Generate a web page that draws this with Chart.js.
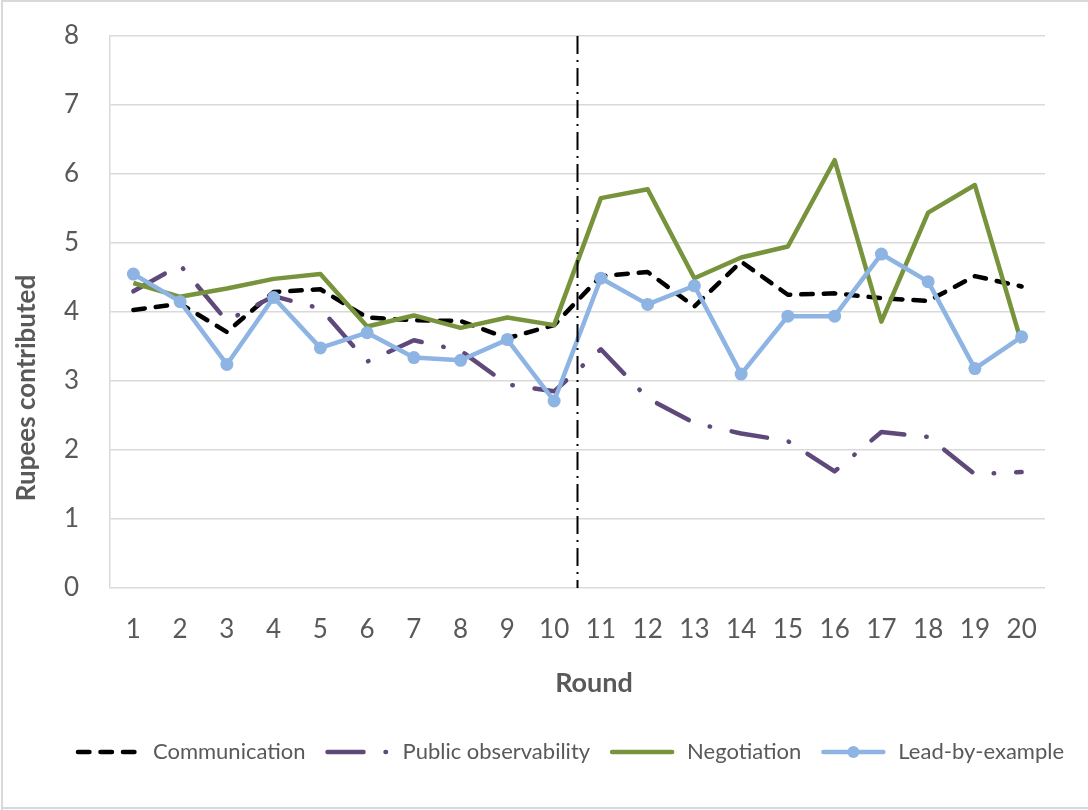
<!DOCTYPE html>
<html>
<head>
<meta charset="utf-8">
<script src="https://cdn.jsdelivr.net/npm/chart.js@4"></script>
<style>
  body { margin: 0; background: #fff; }
  #wrap { width: 1088px; height: 810px; }
</style>
</head>
<body>
<div id="wrap"><canvas id="roundsChart" width="1088" height="810"></canvas></div>
<script>
// Data
const rounds = ['1','2','3','4','5','6','7','8','9','10','11','12','13','14','15','16','17','18','19','20'];
const communication = [4.03,4.12,3.71,4.29,4.33,3.92,3.88,3.87,3.62,3.81,4.52,4.58,4.08,4.73,4.25,4.27,4.20,4.16,4.52,4.37];
const publicObservability = [4.30,4.68,3.87,4.23,4.05,3.28,3.59,3.44,2.95,2.85,3.46,2.75,2.39,2.24,2.13,1.69,2.26,2.19,1.65,1.68];
const negotiation = [4.42,4.22,4.34,4.48,4.55,3.79,3.95,3.77,3.92,3.81,5.65,5.78,4.49,4.79,4.95,6.20,3.86,5.44,5.84,3.55];
const leadByExample = [4.55,4.15,3.24,4.21,3.48,3.70,3.34,3.30,3.60,2.71,4.49,4.11,4.38,3.10,3.94,3.94,4.84,4.44,3.18,3.64];
const yTicks = [0,1,2,3,4,5,6,7,8];
const breakAfter = 9.5; // treatment change between round 10 and 11

const FONT = 'Lato, "Open Sans", sans-serif';
const GREY = '#595959';

const seriesStyle = [
    { label: 'Communication', data: communication, color: '#000000', dash: [11.5, 11], order: 3 },
    { label: 'Public observability', data: publicObservability, color: '#5F497A', dash: [36, 22, 0.5, 22], order: 2 },
    { label: 'Negotiation', data: negotiation, color: '#77933C', dash: [], order: 1 },
    { label: 'Lead-by-example', data: leadByExample, color: '#8EB4E3', dash: [], order: 0, marker: true }
];

// extra drawing: frame, vertical break line, axis titles, legend
const decor = {
    id: 'decor',
    afterDatasetsDraw(chart) {
        const { ctx, chartArea, scales } = chart;
        const x = scales.x.getPixelForValue(breakAfter);
        ctx.save();
        ctx.strokeStyle = '#000';
        ctx.lineWidth = 2;
        ctx.setLineDash([18, 6, 2, 6]);
        ctx.beginPath();
        ctx.moveTo(x, chartArea.top);
        ctx.lineTo(x, chartArea.bottom);
        ctx.stroke();
        ctx.restore();
    },
    afterDraw(chart) {
        const { ctx } = chart;
        ctx.save();
        // frame
        ctx.strokeStyle = '#D9D9D9';
        ctx.lineWidth = 2;
        ctx.beginPath();
        ctx.moveTo(2, 810);
        ctx.lineTo(2, 1);
        ctx.lineTo(1088, 1);
        ctx.moveTo(2, 808);
        ctx.lineTo(1088, 808);
        ctx.stroke();

        // axis titles
        ctx.fillStyle = GREY;
        ctx.textAlign = 'center';
        ctx.textBaseline = 'middle';
        ctx.font = 'bold 27px ' + FONT;
        ctx.fillText('Round', 594, 683);
        ctx.font = 'bold 26px ' + FONT;
        ctx.translate(27, 388);
        ctx.rotate(-Math.PI / 2);
        ctx.fillText('Rupees contributed', 0, 0);
        ctx.setTransform(1, 0, 0, 1, 0, 0);

        // legend
        ctx.font = '22px ' + FONT;
        const sample = 64, gapText = 13, gapItem = 20;
        const widths = seriesStyle.map(s => sample + gapText + ctx.measureText(s.label).width);
        const total = widths.reduce((a, b) => a + b, 0) + gapItem * (widths.length - 1);
        let lx = 570 - total / 2;
        const ly = 752;
        seriesStyle.forEach((s, i) => {
            ctx.strokeStyle = s.color;
            ctx.lineWidth = 4.5;
            ctx.lineCap = 'round';
            ctx.setLineDash(s.dash);
            ctx.beginPath();
            ctx.moveTo(lx + 2, ly);
            ctx.lineTo(lx + sample - 2, ly);
            ctx.stroke();
            ctx.setLineDash([]);
            if (s.marker) {
                ctx.fillStyle = s.color;
                ctx.beginPath();
                ctx.arc(lx + sample / 2, ly, 6, 0, Math.PI * 2);
                ctx.fill();
            }
            ctx.fillStyle = GREY;
            ctx.textAlign = 'left';
            ctx.fillText(s.label, lx + sample + gapText, ly);
            lx += widths[i] + gapItem;
        });
        ctx.restore();
    }
};

new Chart(document.getElementById('roundsChart').getContext('2d'), {
    type: 'line',
    data: {
        labels: rounds,
        datasets: seriesStyle.map(s => ({
            label: s.label,
            data: s.data,
            order: s.order,
            borderColor: s.color,
            backgroundColor: s.color,
            borderWidth: 4.5,
            borderDash: s.dash,
            borderCapStyle: s.dash.length ? 'round' : 'butt',
            borderJoinStyle: 'round',
            tension: 0,
            fill: false,
            pointRadius: s.marker ? 6.5 : 0,
            pointBorderWidth: 0,
            pointBackgroundColor: s.color
        }))
    },
    options: {
        responsive: false,
        animation: false,
        layout: { padding: { left: 0, top: 36, right: 43, bottom: 162 } },
        scales: {
            x: {
                offset: true,
                grid: { display: false, drawTicks: false },
                border: { display: false },
                ticks: { color: GREY, font: { family: FONT, size: 26 }, padding: 26, maxRotation: 0 },
                afterFit: s => { s.height = 60; }
            },
            y: {
                min: 0,
                max: 8,
                afterBuildTicks: s => { s.ticks = yTicks.map(v => ({ value: v })); },
                grid: { color: '#D9D9D9', lineWidth: 1.5, drawTicks: false },
                border: { display: true, color: '#D9D9D9', width: 1.5 },
                ticks: { color: GREY, font: { family: FONT, size: 26 }, padding: 31 },
                afterFit: s => { s.width = 110; s.paddingTop = 0; s.paddingBottom = 0; }
            }
        },
        plugins: {
            legend: { display: false },
            tooltip: { enabled: false }
        }
    },
    plugins: [decor]
});
</script>
</body>
</html>
